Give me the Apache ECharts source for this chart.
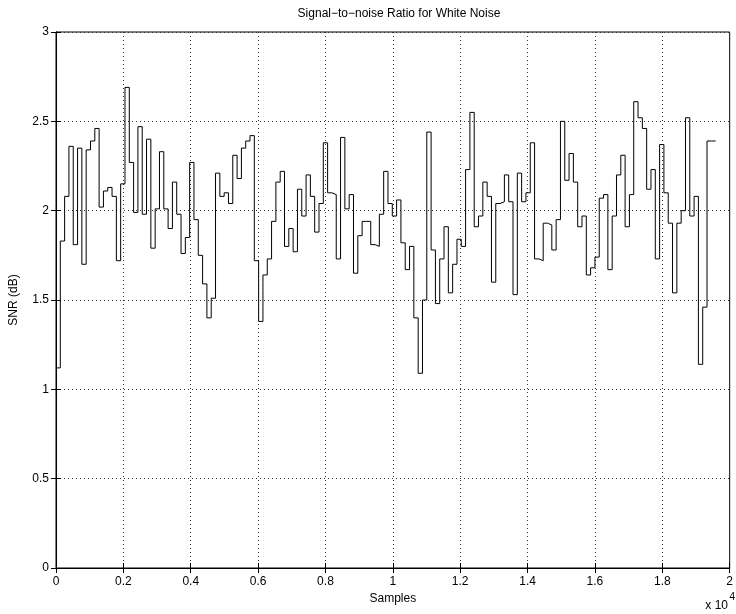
<!DOCTYPE html>
<html>
<head>
<meta charset="utf-8">
<script src="https://cdn.jsdelivr.net/npm/echarts@6/dist/echarts.min.js"></script>
<style>
  html, body { margin: 0; padding: 0; background: #fff; }
  #chart { width: 736px; height: 614px; }
</style>
</head>
<body>
<div id="chart"></div>
<script>
// Frame length in samples: one SNR estimate per frame
const frameLength = 128;

// SNR per frame (dB)
const snrValues = [
  1.12, 1.83, 2.08, 2.36, 1.81, 2.35, 1.70, 2.34, 2.39, 2.46,
  2.02, 2.11, 2.13, 2.08, 1.72, 2.15, 2.69, 2.27, 1.99, 2.47,
  1.98, 2.40, 1.79, 2.01, 2.33, 2.01, 1.90, 2.16, 1.98, 1.76,
  1.85, 2.27, 1.95, 1.75, 1.59, 1.40, 1.51, 2.21, 2.08, 2.10,
  2.04, 2.31, 2.18, 2.35, 2.39, 2.42, 1.72, 1.38, 1.64, 1.73,
  1.94, 2.16, 2.22, 1.80, 1.90, 1.77, 2.12, 1.97, 2.20, 2.08,
  1.88, 2.04, 2.38, 2.10, 2.09, 1.73, 2.41, 2.01, 2.09, 1.65,
  1.86, 1.94, 1.94, 1.81, 1.80, 1.98, 2.22, 2.04, 1.97, 2.06,
  1.82, 1.67, 1.80, 1.40, 1.09, 1.50, 2.44, 1.78, 1.48, 1.73,
  1.91, 1.54, 1.70, 1.84, 1.80, 2.23, 2.55, 1.91, 1.97, 2.16,
  2.08, 1.60, 2.04, 2.05, 2.20, 2.05, 1.53, 2.21, 2.05, 2.10,
  2.38, 1.73, 1.72, 1.93, 1.92, 1.78, 1.95, 2.50, 2.17, 2.32,
  2.16, 1.91, 1.97, 1.64, 1.68, 1.74, 2.07, 2.09, 1.67, 1.97,
  2.20, 2.31, 1.91, 2.09, 2.61, 2.52, 2.46, 2.12, 2.23, 1.73,
  2.37, 2.10, 1.93, 1.54, 1.93, 2.00, 2.52, 1.97, 2.08, 1.14,
  1.46, 2.39, 2.39
];

// Axis ticks
const xTicks = [0, 2000, 4000, 6000, 8000, 10000, 12000, 14000, 16000, 18000, 20000];
const yTicks = [0, 0.5, 1, 1.5, 2, 2.5, 3];

const titleText = 'Signal\u2212to\u2212noise Ratio for White Noise';
const xName = 'Samples';
const yName = 'SNR (dB)';
const xScaleBase = 'x 10';
const xScaleExp = '4';

// Stair points: each value holds until the start of the next frame
const stairData = snrValues.map((v, i) => [i * frameLength, v]);
stairData.push([snrValues.length * frameLength, snrValues[snrValues.length - 1]]);

const FONT = 'Liberation Sans, Arial, Helvetica, sans-serif';
const dotted = { color: '#333', width: 1, type: [1, 3] };

const chart = echarts.init(document.getElementById('chart'), null, { renderer: 'canvas' });

const xMin = xTicks[0], xMax = xTicks[xTicks.length - 1];
const xStep = xTicks[1] - xTicks[0];
const yMin = yTicks[0], yMax = yTicks[yTicks.length - 1];
const yStep = yTicks[1] - yTicks[0];

const frameAxis = {
  axisLine: { show: true, lineStyle: { color: '#000', width: 1 } },
  axisTick: { show: true, inside: true, length: 5, lineStyle: { color: '#000' } }
};

chart.setOption({
  animation: false,
  backgroundColor: '#fff',
  title: {
    text: titleText,
    left: 394, top: 3,
    textAlign: 'center',
    textStyle: { fontFamily: FONT, fontSize: 12, fontWeight: 'normal', color: '#000' }
  },
  grid: { left: 55, right: 3, top: 32, bottom: 46, show: true, borderColor: '#000', borderWidth: 1 },
  xAxis: [Object.assign({
    type: 'value', min: xMin, max: xMax, interval: xStep,
    position: 'bottom',
    axisLabel: {
      fontFamily: FONT, fontSize: 12, color: '#000', margin: 8,
      formatter: v => String(+(v / 1e4).toFixed(1))
    },
    splitLine: { show: true, lineStyle: dotted },
    name: xName, nameLocation: 'middle', nameGap: 25,
    nameTextStyle: { fontFamily: FONT, fontSize: 12, color: '#000' }
  }, frameAxis), Object.assign({
    type: 'value', min: xMin, max: xMax, interval: xStep,
    position: 'top',
    axisLabel: { show: false },
    splitLine: { show: false }
  }, frameAxis)],
  yAxis: [Object.assign({
    type: 'value', min: yMin, max: yMax, interval: yStep,
    position: 'left',
    axisLabel: { fontFamily: FONT, fontSize: 12, color: '#000', margin: 7 },
    splitLine: { show: true, lineStyle: dotted },
    name: yName, nameLocation: 'middle', nameGap: 36, nameRotate: 90,
    nameTextStyle: { fontFamily: FONT, fontSize: 12, color: '#000' }
  }, frameAxis), Object.assign({
    type: 'value', min: yMin, max: yMax, interval: yStep,
    position: 'right',
    axisLabel: { show: false },
    splitLine: { show: false }
  }, frameAxis)],
  series: [{
    type: 'line',
    step: 'end',
    xAxisIndex: 0, yAxisIndex: 0,
    data: stairData,
    showSymbol: false,
    lineStyle: { color: '#000', width: 1 },
    silent: true
  }],
  graphic: [{
    type: 'text',
    right: 8, top: 600,
    style: { text: xScaleBase, font: '12px ' + FONT, fill: '#000' }
  }, {
    type: 'text',
    right: 1, top: 592,
    style: { text: xScaleExp, font: '10px ' + FONT, fill: '#000' }
  }]
});
</script>
</body>
</html>
